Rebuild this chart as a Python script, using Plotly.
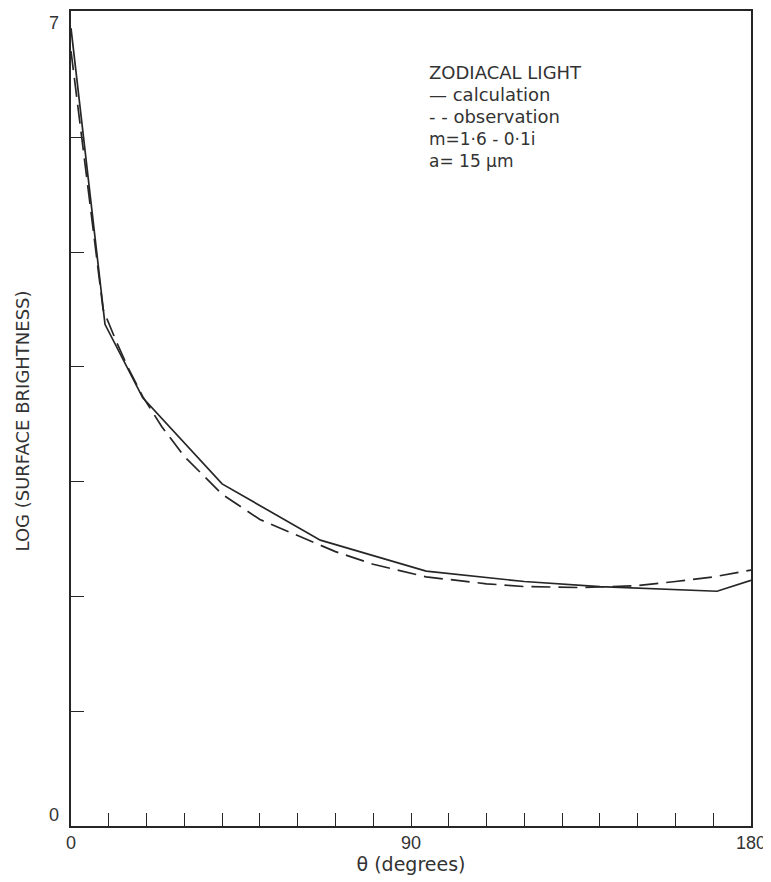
import plotly.graph_objects as go

# Data
theta_calc = [0, 9, 19, 40, 66, 94, 120, 140, 171, 180]
logb_calc = [6.95, 4.37, 3.73, 2.98, 2.49, 2.22, 2.13, 2.085, 2.045, 2.14]

theta_obs = [0, 8.5, 12, 15, 19, 24, 30, 40, 50, 60, 70, 80, 94, 110, 120, 135, 150, 160, 170, 180]
logb_obs = [6.75, 4.5, 4.22, 4.0, 3.74, 3.48, 3.22, 2.89, 2.67, 2.53, 2.39, 2.28, 2.17, 2.11,
            2.086, 2.077, 2.094, 2.13, 2.17, 2.23]

x_ticks = [0, 90, 180]
x_minor = [10, 20, 30, 40, 50, 60, 70, 80, 100, 110, 120, 130, 140, 150, 160, 170]
y_minor = [1, 2, 3, 4, 5, 6]
legend_lines = ["ZODIACAL LIGHT", "— calculation", "- - observation", "m=1·6 - 0·1i", "a= 15 μm"]
legend_sizes = [18, 18, 18, 17, 17]

FONT = "DejaVu Sans, Liberation Sans, sans-serif"
NUMFONT = "Liberation Sans, Arial, sans-serif"
TXT = "#333333"
LINE = "#262626"

fig = go.Figure()
fig.add_trace(go.Scatter(x=theta_calc, y=logb_calc, mode="lines",
                         line=dict(color=LINE, width=1.7), name="calculation"))
fig.add_trace(go.Scatter(x=theta_obs, y=logb_obs, mode="lines",
                         line=dict(color=LINE, width=1.7, dash="19px,8px"), name="observation"))

# page body adds an 8px margin, so the figure is sized/offset to compensate
fig.update_layout(
    width=763, height=874,
    margin=dict(l=63, r=20, t=1, b=56),
    paper_bgcolor="white", plot_bgcolor="white",
    showlegend=False,
    font=dict(family=FONT, color=TXT, size=16),
)
fig.update_xaxes(
    range=[0, 180], tickvals=x_ticks, ticktext=[str(v) for v in x_ticks],
    ticks="inside", ticklen=13, tickcolor=LINE, tickwidth=1.3,
    minor=dict(tickvals=x_minor, ticks="inside", ticklen=13, tickcolor=LINE, tickwidth=1.3),
    showline=True, linecolor=LINE, linewidth=1.5, mirror=True, showgrid=False, zeroline=False,
    tickfont=dict(size=18, color=TXT, family=NUMFONT),
    title=dict(text="θ (degrees)", font=dict(size=19, color=TXT), standoff=5),
)
fig.update_yaxes(
    range=[0, 7.1], tickvals=[], ticks="",
    minor=dict(tickvals=y_minor, ticks="inside", ticklen=13, tickcolor=LINE, tickwidth=1.3),
    showline=True, linecolor=LINE, linewidth=1.5, mirror=True, showgrid=False, zeroline=False,
    showticklabels=False,
)

# y-axis end labels and title
lab_font = dict(size=18, color=TXT, family=NUMFONT)
fig.add_annotation(text="7", xref="paper", yref="y", x=0, y=7.1, xanchor="right", yanchor="top",
                   xshift=-10, yshift=0, showarrow=False, font=lab_font)
fig.add_annotation(text="0", xref="paper", yref="y", x=0, y=0, xanchor="right", yanchor="middle",
                   xshift=-10, yshift=11, showarrow=False, font=lab_font)
fig.add_annotation(text="LOG (SURFACE BRIGHTNESS)", xref="paper", yref="paper", x=0, y=0.5,
                   xanchor="center", yanchor="middle", xshift=-49, yshift=-3, textangle=-90,
                   showarrow=False, font=dict(size=18, color=TXT))

# legend block as text
legend_y = [71, 93, 115, 137, 159]
for txt, py, fs in zip(legend_lines, legend_y, legend_sizes):
    fig.add_annotation(text=txt, xref="paper", yref="paper",
                       x=(419 - 63) / 680, y=1 - (py - 9) / 817,
                       xanchor="left", yanchor="middle", showarrow=False,
                       font=dict(size=fs, color=TXT))

fig.write_html("out.html")
